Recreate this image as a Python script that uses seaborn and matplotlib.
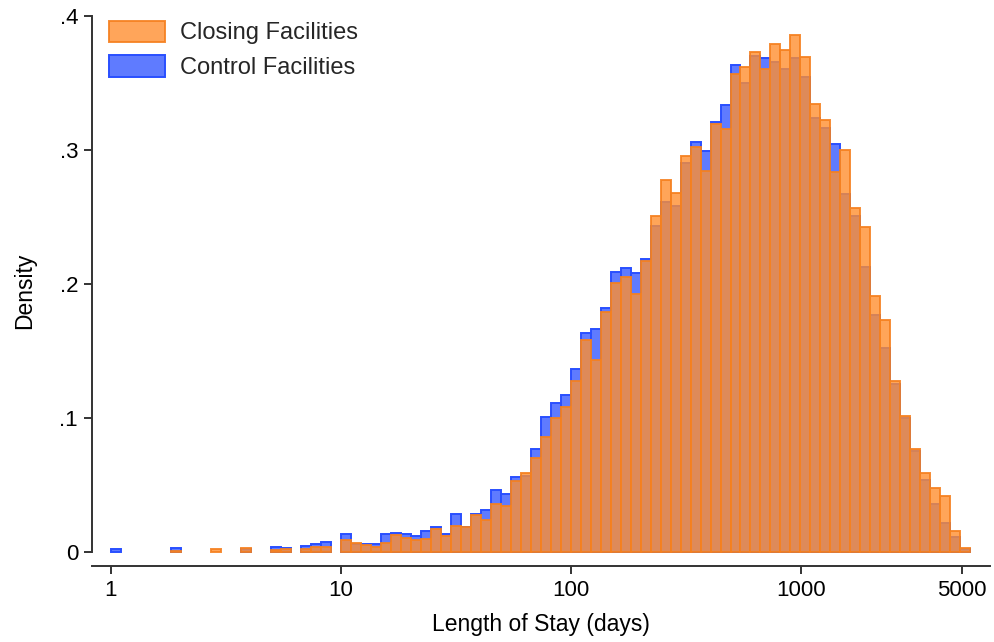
import numpy as np
import pandas as pd
import matplotlib
matplotlib.use("Agg")
import matplotlib.pyplot as plt
import seaborn as sns
from matplotlib.patches import Patch

# Density of ln(length of stay), bins 0.1 wide starting at ln(1) = 0
closing_density = [
    0.0, 0.0, 0.0, 0.0, 0.0, 0.0, 0.001, 0.0, 0.0, 0.0,
    0.002, 0.0, 0.0, 0.003, 0.0, 0.0, 0.0015, 0.002, 0.0, 0.0025,
    0.0037, 0.0037, 0.0, 0.0092, 0.0067, 0.0052, 0.004, 0.007, 0.0127, 0.0107,
    0.0092, 0.0097, 0.0172, 0.0122, 0.0194, 0.0187, 0.0276, 0.0239, 0.0358, 0.0343,
    0.053, 0.059, 0.0701, 0.0858, 0.1, 0.1082, 0.1276, 0.1582, 0.1433, 0.179,
    0.2007, 0.2052, 0.1925, 0.2172, 0.2507, 0.2776, 0.2677, 0.2955, 0.3022, 0.2843,
    0.3194, 0.3157, 0.3567, 0.3617, 0.3731, 0.3604, 0.3791, 0.3746, 0.3858, 0.3694,
    0.3343, 0.3224, 0.2836, 0.3, 0.2567, 0.2425, 0.191, 0.1731, 0.1276, 0.1015,
    0.0769, 0.059, 0.0478, 0.0418, 0.0157, 0.003,
]
control_density = [
    0.002, 0.0, 0.0, 0.0, 0.0, 0.0, 0.003, 0.0, 0.0, 0.0,
    0.0, 0.0, 0.0, 0.002, 0.0, 0.0, 0.0037, 0.003, 0.0, 0.0045,
    0.006, 0.0075, 0.0, 0.0134, 0.0062, 0.006, 0.006, 0.0134, 0.0142, 0.0132,
    0.012, 0.0157, 0.0187, 0.0134, 0.0284, 0.0183, 0.0284, 0.0313, 0.0463, 0.0433,
    0.056, 0.057, 0.0769, 0.1007, 0.1112, 0.1172, 0.1366, 0.1634, 0.1664, 0.1819,
    0.2087, 0.2117, 0.2082, 0.2184, 0.2433, 0.2612, 0.2582, 0.2903, 0.306, 0.2993,
    0.3209, 0.3336, 0.3634, 0.3498, 0.3701, 0.3687, 0.3657, 0.3604, 0.3684, 0.3545,
    0.3239, 0.3164, 0.3045, 0.2672, 0.2507, 0.2127, 0.1769, 0.1522, 0.1256, 0.1,
    0.0754, 0.0537, 0.0358, 0.0216, 0.0112, 0.002,
]
group_labels = ["Closing Facilities", "Control Facilities"]
tick_days = [1, 10, 100, 1000, 5000]
tick_day_labels = ["1", "10", "100", "1000", "5000"]
density_ticks = [0, 0.1, 0.2, 0.3, 0.4]
density_tick_labels = ["0", ".1", ".2", ".3", ".4"]

bin_width = 0.1
n_bins = len(closing_density)
bin_edges = [round(i * bin_width, 1) for i in range(n_bins + 1)]
bin_centers = [e + bin_width / 2 for e in bin_edges[:-1]]

sns.set_style("white")
plt.rcParams["font.family"] = ["Liberation Sans", "DejaVu Sans"]

blue_face = (0.372, 0.482, 1.0, 1.0)
blue_edge = (0.16, 0.31, 1.0, 1.0)
orange_face = (1.0, 0.56, 0.19, 0.8)
orange_edge = (0.96, 0.50, 0.12, 0.9)
axis_color = "#333333"

fig = plt.figure(figsize=(9.95, 6.42), dpi=100)
ax = fig.add_axes([92 / 995, 1 - 566 / 642, 898 / 995, 550 / 642])


def draw_hist(values, face, edge, z):
    frame = pd.DataFrame({"ln_los": bin_centers, "density": values})
    start = len(ax.patches)
    sns.histplot(data=frame, x="ln_los", weights="density", bins=bin_edges,
                 stat="count", ax=ax, element="bars", fill=True)
    for p in ax.patches[start:]:
        p.set_facecolor(face)
        p.set_edgecolor(edge)
        p.set_linewidth(1.4)
        p.set_zorder(z)
        if p.get_height() <= 0:
            p.set_visible(False)


draw_hist(control_density, blue_face, blue_edge, 2)
draw_hist(closing_density, orange_face, orange_edge, 3)

ax.set_xlim(-0.19, 8.797)
ax.set_ylim(-0.01045, 0.4)
ax.set_xticks(np.log(tick_days))
ax.set_xticklabels(tick_day_labels)
ax.set_yticks(density_ticks)
ax.set_yticklabels(density_tick_labels)

for side in ["top", "right"]:
    ax.spines[side].set_visible(False)
for side in ["left", "bottom"]:
    ax.spines[side].set_color(axis_color)
    ax.spines[side].set_linewidth(1.4)
ax.spines["left"].set_bounds(0, 0.4)

ax.tick_params(axis="both", which="major", direction="out", length=6,
               width=1.4, color=axis_color, labelsize=16, labelcolor="black",
               left=True, bottom=True)
ax.tick_params(axis="y", pad=4)
ax.tick_params(axis="x", pad=4)
ax.grid(False)

ax.set_xlabel("Length of Stay (days)", fontsize=16.5, color="black")
ax.set_ylabel("Density", fontsize=16.5, color="black")
ax.xaxis.set_label_coords(0.5, -0.085)
ax.xaxis.label.set_va("top")
ax.yaxis.set_label_coords(-0.0624, 0.5)

handles = [
    Patch(facecolor=(1.0, 0.647, 0.353), edgecolor=orange_edge, linewidth=1.4),
    Patch(facecolor=blue_face, edgecolor=blue_edge, linewidth=1.4),
]
fig.legend(handles, group_labels, loc="upper left",
           bbox_to_anchor=(109 / 995, 1 - 20.5 / 642),
           bbox_transform=fig.transFigure, frameon=False, borderpad=0,
           fontsize=17, handlelength=2.37, handleheight=1.0,
           handletextpad=0.62, labelspacing=0.48, borderaxespad=0)

fig.savefig("out.png", dpi=100)
